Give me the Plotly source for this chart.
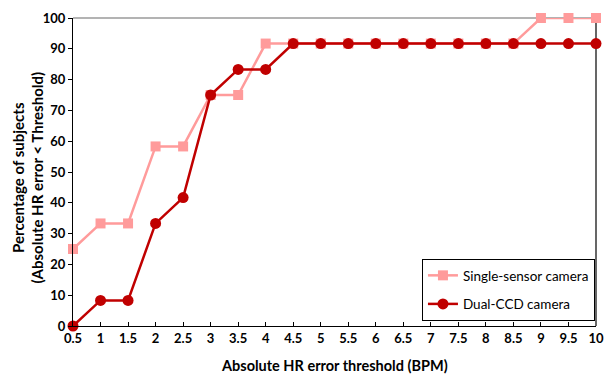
import plotly.graph_objects as go

thresholds = [0.5, 1, 1.5, 2, 2.5, 3, 3.5, 4, 4.5, 5, 5.5, 6, 6.5, 7, 7.5, 8, 8.5, 9, 9.5, 10]
single_sensor = [25, 33.3, 33.3, 58.3, 58.3, 75, 75, 91.7, 91.7, 91.7, 91.7, 91.7, 91.7, 91.7, 91.7, 91.7, 91.7, 100, 100, 100]
dual_ccd = [0, 8.3, 8.3, 33.3, 41.7, 75, 83.3, 83.3, 91.7, 91.7, 91.7, 91.7, 91.7, 91.7, 91.7, 91.7, 91.7, 91.7, 91.7, 91.7]
x_ticks = [0.5, 1, 1.5, 2, 2.5, 3, 3.5, 4, 4.5, 5, 5.5, 6, 6.5, 7, 7.5, 8, 8.5, 9, 9.5, 10]
x_tick_labels = ["0.5", "1", "1.5", "2", "2.5", "3", "3.5", "4", "4.5", "5", "5.5", "6", "6.5", "7", "7.5", "8", "8.5", "9", "9.5", "10"]

font_fam = "Lato, 'Open Sans', sans-serif"

fig = go.Figure()
fig.add_trace(go.Scatter(
    x=thresholds, y=single_sensor, name="Single-sensor camera",
    mode="lines+markers", legendgroup="a",
    line=dict(color="#FF9B9B", width=2.5),
    marker=dict(symbol="square", size=10, color="#FF9B9B"),
    cliponaxis=False,
))
fig.add_trace(go.Scatter(
    x=thresholds, y=dual_ccd, name="Dual-CCD camera",
    mode="lines+markers", legendgroup="b",
    line=dict(color="#C00000", width=2.5),
    marker=dict(symbol="circle", size=11, color="#C00000"),
    cliponaxis=False,
))

fig.add_shape(type="line", xref="paper", yref="paper", x0=0, x1=1, y0=1, y1=1,
              line=dict(color="#9a9a9a", width=1.5), layer="below")
fig.add_shape(type="line", xref="paper", yref="paper", x0=1, x1=1, y0=0, y1=1,
              line=dict(color="black", width=1.2), layer="below")

L, R, T, B = 73, 9, 18, 49
pw = 605 - L - R
ph = 375 - T - B

fig.add_annotation(
    text="<b>Percentage of subjects<br>(Absolute HR error < Threshold)</b>",
    xref="paper", yref="paper",
    x=(27.5 - L) / pw, y=(375 - B - 178) / ph,
    xanchor="center", yanchor="middle", textangle=-90, showarrow=False,
    font=dict(size=15, family=font_fam),
)
fig.add_annotation(
    text="<b>Absolute HR error threshold (BPM)</b>",
    xref="paper", yref="paper",
    x=0.5, y=(375 - B - 365) / ph,
    xanchor="center", yanchor="middle", showarrow=False,
    font=dict(size=14.5, family=font_fam),
)

fig.update_layout(
    width=605, height=375,
    margin=dict(l=L, r=R, t=T, b=B),
    plot_bgcolor="white", paper_bgcolor="white",
    font=dict(family=font_fam, color="black"),
    showlegend=True,
    legend=dict(
        x=0.998, y=0.016, xanchor="right", yanchor="bottom",
        bordercolor="black", borderwidth=1, bgcolor="white",
        font=dict(size=13.5, family=font_fam),
        traceorder="grouped", tracegroupgap=8, itemwidth=30,
    ),
    xaxis=dict(
        range=[0.5, 10], tickvals=x_ticks, ticktext=x_tick_labels,
        showgrid=False, zeroline=False, automargin=False,
        showline=True, linecolor="black", linewidth=1.2,
        ticks="inside", ticklen=4, tickcolor="black",
        ticklabeloverflow="allow",
        tickfont=dict(size=13, family=font_fam, weight="bold"),
    ),
    yaxis=dict(
        range=[0, 100], dtick=10,
        showgrid=False, zeroline=False, automargin=False,
        showline=True, linecolor="black", linewidth=1.2,
        ticks="outside", ticklen=4, tickcolor="black",
        tickfont=dict(size=13, family=font_fam, weight="bold"),
    ),
)

fig.write_html("out.html")
